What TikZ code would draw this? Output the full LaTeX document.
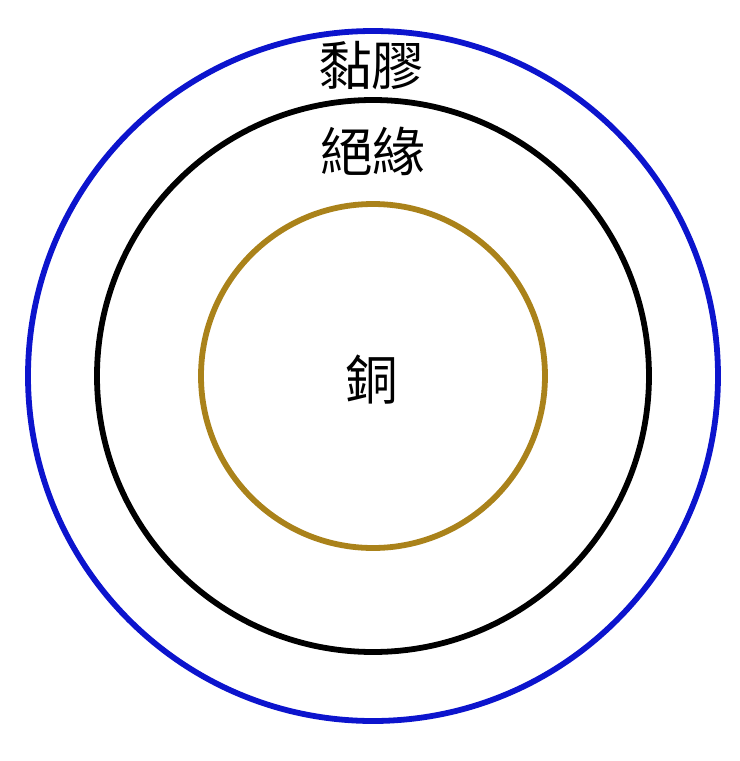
\documentclass[tikz,border=0pt]{standalone}
\usepackage{fontspec}
\newfontfamily\cjk{Noto Sans CJK TC}

\definecolor{gluecol}{RGB}{12,20,205}
\definecolor{coppercol}{RGB}{170,130,26}

\begin{document}
\begin{tikzpicture}[scale=0.02]

\def\rglue{345}
\def\rins{276}
\def\rcu{172}

\tikzset{ring/.style = {line width=3.3pt}}
\tikzset{lbl/.style = {font=\cjk\fontsize{30}{36}\selectfont, inner sep=0pt}}

\useasboundingbox (-373,-385) rectangle (367,376);

%rings
\draw[ring, gluecol]   (0,0) circle (\rglue);
\draw[ring, black]     (0,0) circle (\rins);
\draw[ring, coppercol] (0,0) circle (\rcu);

%labels
\node[lbl] (glue) at (-1, 310) {黏膠};
\node[lbl] (ins)  at ( 0, 225) {絕緣};
\node[lbl] (cu)   at (-1,  -4) {銅};

\end{tikzpicture}
\end{document}
